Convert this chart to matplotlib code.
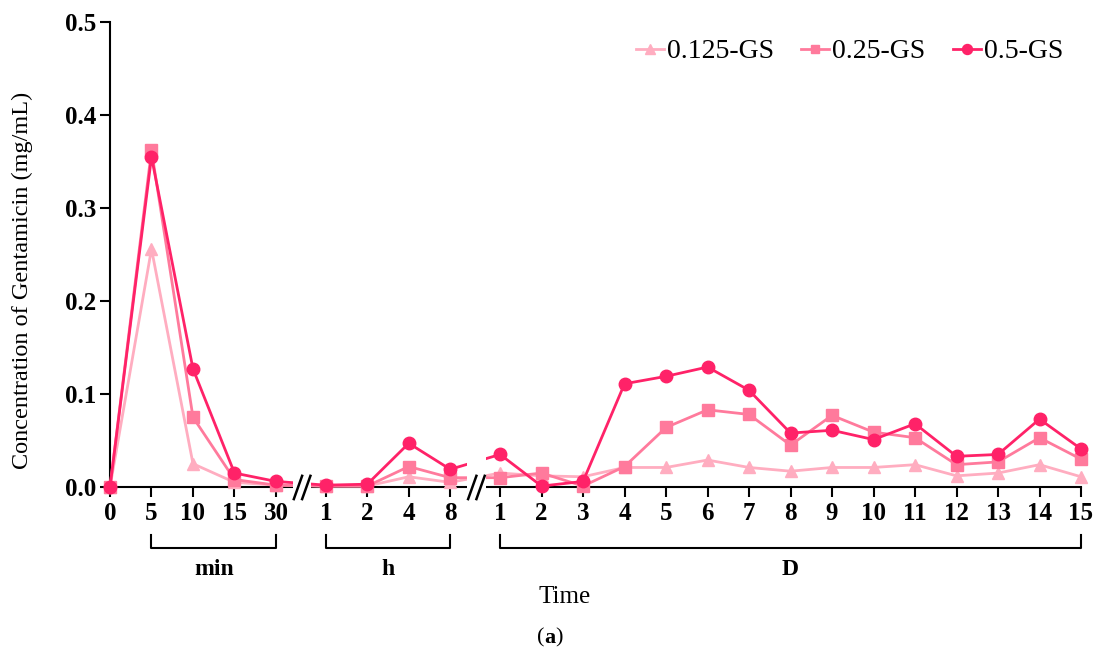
import matplotlib
matplotlib.use("Agg")
import matplotlib.pyplot as plt
import numpy as np

plt.rcParams['font.family'] = ['Liberation Serif', 'DejaVu Serif']

# ---- data ----
min_labels = ['0', '5', '10', '15', '30']
h_labels = ['1', '2', '4', '8']
d_labels = [str(i) for i in range(1, 16)]

gs0125 = [0.0, 0.256, 0.025, 0.005, 0.002,
          0.001, 0.001, 0.011, 0.005,
          0.015, 0.012, 0.011, 0.021, 0.021, 0.029, 0.021, 0.017, 0.021, 0.021,
          0.024, 0.012, 0.015, 0.024, 0.011]
gs025 = [0.0, 0.362, 0.075, 0.008, 0.002,
         0.001, 0.001, 0.022, 0.010,
         0.010, 0.015, 0.001, 0.022, 0.064, 0.083, 0.078, 0.045, 0.077, 0.059,
         0.053, 0.024, 0.027, 0.053, 0.030]
gs05 = [0.0, 0.355, 0.127, 0.015, 0.006,
        0.002, 0.003, 0.047, 0.019,
        0.035, 0.001, 0.006, 0.111, 0.119, 0.129, 0.104, 0.058, 0.061, 0.051,
        0.068, 0.033, 0.035, 0.073, 0.041]
series_names = ['0.125-GS', '0.25-GS', '0.5-GS']
colors = ['#FFADC0', '#FF7A9C', '#FF2268']
markers = ['^', 's', 'o']

# ---- positions ----
gap = 1.2
xs_min = np.arange(len(min_labels), dtype=float)
xs_h = xs_min[-1] + gap + np.arange(len(h_labels))
xs_d = xs_h[-1] + gap + np.arange(len(d_labels))
xs = np.concatenate([xs_min, xs_h, xs_d])
labels = min_labels + h_labels + d_labels
breaks = [(xs_min[-1] + xs_h[0]) / 2 + 0.03, (xs_h[-1] + xs_d[0]) / 2 + 0.03]

fig = plt.figure(figsize=(11, 6.54), dpi=100)
ax = fig.add_axes([110 / 1100, 1 - 487 / 654, 971 / 1100, 465 / 654])

for ys, c, m, n in zip([gs0125, gs025, gs05], colors, markers, series_names):
    ax.plot(xs, ys, color=c, marker=m, markersize=9 if m != 's' else 8,
            lw=2.0, label=n, clip_on=False, zorder=3)

ax.set_xlim(xs[0], xs[-1])
ax.set_ylim(0, 0.5)
ax.set_yticks(np.arange(0, 0.51, 0.1))
ax.set_yticklabels([f'{v:.1f}' for v in np.arange(0, 0.51, 0.1)])
ax.set_xticks(xs)
ax.set_xticklabels(labels)
for lab in ax.get_xticklabels() + ax.get_yticklabels():
    lab.set_fontweight('bold')
    lab.set_fontsize(18)
ax.tick_params(axis='both', direction='out', length=7, width=1.5, color='black')
ax.tick_params(axis='x', pad=4)
ax.tick_params(axis='y', pad=3)
for s in ['top', 'right']:
    ax.spines[s].set_visible(False)
for s in ['left', 'bottom']:
    ax.spines[s].set_linewidth(1.5)
    ax.spines[s].set_zorder(2)

# axis breaks
for b in breaks:
    ax.add_patch(plt.Rectangle((b - 0.22, -0.012), 0.44, 0.07, facecolor='white',
                               edgecolor='none', zorder=4, clip_on=False))
    for off in (-0.1, 0.1):
        ax.plot([b + off - 0.1, b + off + 0.1], [-0.013, 0.012], color='black',
                lw=1.8, clip_on=False, zorder=5)

# brackets
y_top, y_bot = -0.0516, -0.0656
for grp, name in [(xs_min[1:], 'min'), (xs_h, 'h'), (xs_d, 'D')]:
    x0, x1 = grp[0], grp[-1]
    ax.plot([x0, x0, x1, x1], [y_top, y_bot, y_bot, y_top], color='black',
            lw=1.5, clip_on=False)
    ax.text((x0 + x1) / 2, -0.089, name, ha='center', va='center',
            fontsize=17, fontweight='bold')

fig.text(565 / 1100, 1 - 597 / 654, 'Time', ha='center', va='center', fontsize=18)
fig.text(544 / 1100, 1 - 638 / 654, '(', ha='right', va='center', fontsize=16)
fig.text(544 / 1100, 1 - 638 / 654, 'a', ha='left', va='center', fontsize=16,
         fontweight='bold')
fig.text(555 / 1100, 1 - 638 / 654, ')', ha='left', va='center', fontsize=16)

fig.text(22 / 1100, 1 - 280 / 654, 'Concentration of Gentamicin (mg/mL)',
         rotation=90, ha='center', va='center', fontsize=17.5)

leg = ax.legend(loc='upper right', bbox_to_anchor=(1088 / 1100, 1 - 14 / 654),
                bbox_transform=fig.transFigure, ncol=3, frameon=False,
                fontsize=20, handlelength=1.0, handletextpad=0.1,
                columnspacing=1.0, markerscale=0.8)

fig.savefig('out.png', dpi=100)
